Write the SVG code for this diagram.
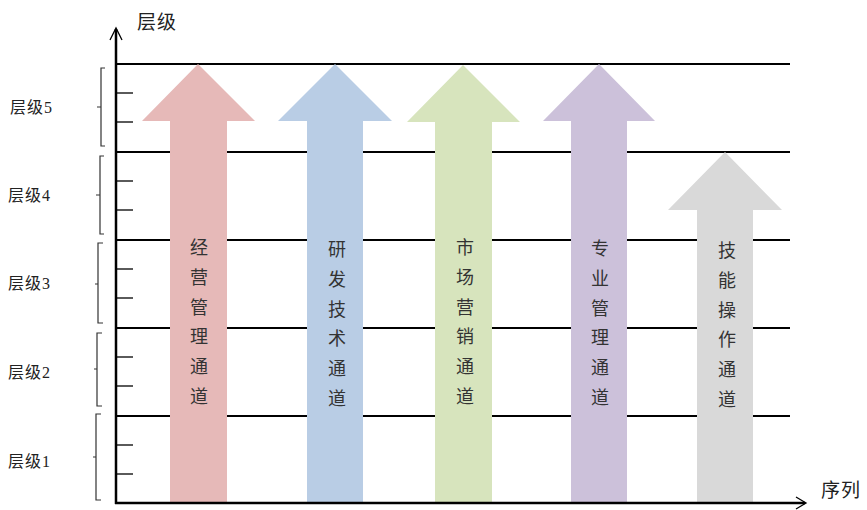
<svg xmlns="http://www.w3.org/2000/svg" width="867" height="510" viewBox="0 0 867 510">
<style>
.grid{stroke:#000;stroke-width:2;fill:none}
.axis{stroke:#000;stroke-width:2.5;fill:none}
.tick{stroke:#000;stroke-width:1.3;fill:none}
.brk{stroke:#333;stroke-width:1.2;fill:none}
.lbl{font-family:"Liberation Serif","Noto Sans CJK SC",serif;font-size:16px;letter-spacing:1px;fill:#222}
.ax{font-family:"Noto Sans CJK SC",sans-serif;font-size:19px;letter-spacing:1px;fill:#222}
.vt{font-family:"Noto Sans CJK SC",sans-serif;font-size:18px;fill:#333;text-anchor:middle}
</style>
<rect width="867" height="510" fill="#fff"/>
<g id="connectors">
<line class="grid" x1="116" y1="64" x2="790" y2="64"/>
<line class="grid" x1="116" y1="152" x2="790" y2="152"/>
<line class="grid" x1="116" y1="240" x2="790" y2="240"/>
<line class="grid" x1="116" y1="328" x2="790" y2="328"/>
<line class="grid" x1="116" y1="416" x2="790" y2="416"/>
<g class="tick">
<line x1="116" y1="93" x2="133" y2="93"/><line x1="116" y1="122" x2="133" y2="122"/>
<line x1="116" y1="181" x2="133" y2="181"/><line x1="116" y1="210" x2="133" y2="210"/>
<line x1="116" y1="269" x2="133" y2="269"/><line x1="116" y1="298" x2="133" y2="298"/>
<line x1="116" y1="357" x2="133" y2="357"/><line x1="116" y1="386" x2="133" y2="386"/>
<line x1="116" y1="445" x2="133" y2="445"/><line x1="116" y1="474" x2="133" y2="474"/>
</g>
<g class="brk">
<path d="M105 68 H101 V146 H105 M101 107 H97"/>
<path d="M104 156 H100 V234 H104 M100 195 H96"/>
<path d="M103 243 H98 V323 H103 M98 284 H95"/>
<path d="M102 333 H97 V406 H102 M97 369 H94"/>
<path d="M101 414 H96 V500 H101 M96 457 H93"/>
</g>
</g>
<g id="arrow1"><polygon points="198,64 255,121 227,121 227,503 170,503 170,121 142,121" fill="#E6B9B8"/>
<text class="vt" x="199" y="254">经</text><text class="vt" x="199" y="284">营</text><text class="vt" x="199" y="314">管</text><text class="vt" x="199" y="343">理</text><text class="vt" x="199" y="373">通</text><text class="vt" x="199" y="403">道</text></g>
<g id="arrow2"><polygon points="335,64 392,121 363,121 363,503 307,503 307,121 278,121" fill="#B9CDE5"/>
<text class="vt" x="337" y="256">研</text><text class="vt" x="337" y="286">发</text><text class="vt" x="337" y="316">技</text><text class="vt" x="337" y="345">术</text><text class="vt" x="337" y="375">通</text><text class="vt" x="337" y="405">道</text></g>
<g id="arrow3"><polygon points="463,65 520,122 492,122 492,503 435,503 435,122 407,122" fill="#D7E4BD"/>
<text class="vt" x="465" y="254">市</text><text class="vt" x="465" y="284">场</text><text class="vt" x="465" y="314">营</text><text class="vt" x="465" y="343">销</text><text class="vt" x="465" y="373">通</text><text class="vt" x="465" y="403">道</text></g>
<g id="arrow4"><polygon points="599,64 655,121 627,121 627,503 571,503 571,121 543,121" fill="#CCC1DA"/>
<text class="vt" x="600" y="255">专</text><text class="vt" x="600" y="285">业</text><text class="vt" x="600" y="315">管</text><text class="vt" x="600" y="344">理</text><text class="vt" x="600" y="374">通</text><text class="vt" x="600" y="404">道</text></g>
<g id="arrow5"><polygon points="725,152 782,210 753,210 753,503 697,503 697,210 668,210" fill="#D9D9D9"/>
<text class="vt" x="727" y="257">技</text><text class="vt" x="727" y="287">能</text><text class="vt" x="727" y="317">操</text><text class="vt" x="727" y="346">作</text><text class="vt" x="727" y="376">通</text><text class="vt" x="727" y="406">道</text></g>
<g id="axes">
<line class="axis" x1="116" y1="29" x2="116" y2="504"/>
<line class="axis" x1="115" y1="503" x2="805" y2="503"/>
<path d="M110 40 L116 28 L122 40" stroke="#000" stroke-width="1.3" fill="none"/>
<path d="M796 497 L806 503 L796 509" stroke="#000" stroke-width="1.3" fill="none"/>
<text class="ax" x="137" y="29">层级</text>
<text class="ax" x="821" y="497">序列</text>
</g>
<g id="labels">
<text class="lbl" x="10" y="113">层级5</text>
<text class="lbl" x="8" y="201">层级4</text>
<text class="lbl" x="8" y="289">层级3</text>
<text class="lbl" x="8" y="378">层级2</text>
<text class="lbl" x="8" y="467">层级1</text>
</g>
</svg>
